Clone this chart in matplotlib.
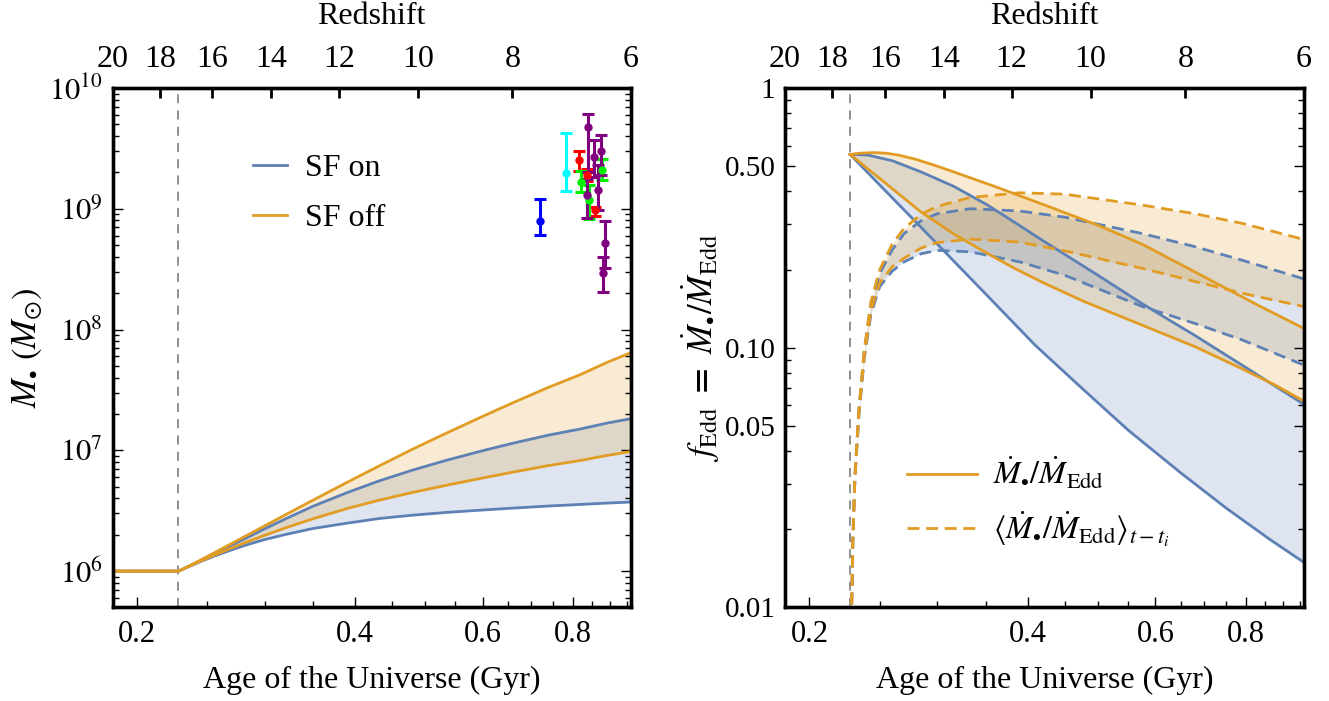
import numpy as np
import matplotlib
matplotlib.use("Agg")
import matplotlib.pyplot as plt
from matplotlib.ticker import FixedLocator, NullFormatter, FixedFormatter

plt.rcParams['font.family'] = ['Liberation Serif', 'DejaVu Serif']
plt.rcParams['mathtext.fontset'] = 'stix'

# ---------------- data ----------------
z_ticks = [20, 18, 16, 14, 12, 10, 8, 6]
age_z6 = 0.9616          # Gyr at z = 6 (right edge)
t_seed = 0.2275          # seeding time (vertical dashed line)

# Left panel: black-hole mass (log10 M) vs age
t_mass = [0.18, 0.2282, 0.235, 0.245, 0.255, 0.268, 0.2824, 0.30, 0.32, 0.3493, 0.39,
          0.4323, 0.48, 0.5349, 0.60, 0.6618, 0.74, 0.8188, 0.89, 0.9606]
logM_off_hi = [6.0, 6.0, 6.037, 6.093, 6.148, 6.217, 6.290, 6.374, 6.464, 6.585, 6.735,
               6.872, 7.009, 7.143, 7.281, 7.396, 7.522, 7.627, 7.727, 7.808]
logM_on_hi = [6.0, 6.0, 6.036, 6.088, 6.140, 6.204, 6.272, 6.350, 6.430, 6.535, 6.650,
              6.748, 6.836, 6.918, 6.997, 7.060, 7.126, 7.177, 7.225, 7.262]
logM_off_lo = [6.0, 6.0, 6.035, 6.084, 6.129, 6.183, 6.237, 6.296, 6.356, 6.432, 6.518,
               6.588, 6.651, 6.711, 6.771, 6.820, 6.874, 6.916, 6.957, 6.990]
logM_on_lo = [6.0, 6.0, 6.034, 6.080, 6.122, 6.169, 6.215, 6.261, 6.302, 6.352, 6.397,
              6.436, 6.463, 6.486, 6.506, 6.522, 6.539, 6.552, 6.563, 6.572]

# observed quasars: age (Gyr), log10 M, upper / lower error ends, colour
qso_t = [0.720, 0.781, 0.815, 0.837, 0.858, 0.820, 0.842, 0.876,
         0.840, 0.854, 0.873, 0.835, 0.865, 0.885, 0.880]
qso_logM = [8.90, 9.30, 9.40, 9.28, 8.99, 9.225, 9.074, 9.32,
            9.68, 9.432, 9.481, 9.115, 9.156, 8.72, 8.472]
qso_logM_top = [9.082, 9.625, 9.481, 9.33, 9.016, 9.31, 9.198, 9.41,
                9.782, 9.57, 9.61, 9.245, 9.363, 8.902, 8.60]
qso_logM_bot = [8.785, 9.151, 9.313, 9.23, 8.944, 9.14, 8.914, 9.239,
                9.308, 9.266, 9.283, 8.922, 8.99, 8.509, 8.307]
qso_color = ['blue', 'cyan', 'red', 'red', 'red', '#00ee00', '#00ee00', '#00ee00',
             'purple', 'purple', 'purple', 'purple', 'purple', 'purple', 'purple']

# Right panel: Eddington ratio (solid) vs age
t_off_hi = [0.2275, 0.235, 0.2455, 0.255, 0.265, 0.28, 0.30, 0.3163, 0.36, 0.42,
            0.5, 0.5758, 0.712, 0.83, 0.9616]
f_off_hi = [0.555, 0.561, 0.564, 0.561, 0.552, 0.532, 0.500, 0.475, 0.418, 0.356,
            0.296, 0.250, 0.183, 0.146, 0.1186]
t_off_lo = [0.2275, 0.25, 0.2846, 0.3163, 0.3515, 0.385, 0.42, 0.48, 0.5758, 0.68,
            0.791, 0.88, 0.9616]
f_off_lo = [0.555, 0.448, 0.334, 0.274, 0.231, 0.201, 0.178, 0.150, 0.122, 0.101,
            0.0828, 0.0715, 0.0622]
t_on_hi = [0.2275, 0.2405, 0.26, 0.2846, 0.3163, 0.3515, 0.385, 0.42, 0.5, 0.5758,
           0.68, 0.791, 0.9616]
f_on_hi = [0.555, 0.552, 0.525, 0.476, 0.418, 0.355, 0.302, 0.258, 0.190, 0.1475,
           0.1115, 0.0855, 0.0605]
t_on_lo = [0.2275, 0.25, 0.2846, 0.3515, 0.4096, 0.48, 0.551, 0.65, 0.75, 0.86, 0.9616]
f_on_lo = [0.555, 0.423, 0.292, 0.159, 0.1022, 0.068, 0.048, 0.033, 0.0242, 0.0184, 0.0149]

# Right panel: time-averaged Eddington ratio (dashed)
t_avg = [0.2280, 0.2285, 0.2295, 0.231, 0.234, 0.238, 0.243, 0.25, 0.26, 0.27,
         0.285, 0.30, 0.3334, 0.39, 0.45, 0.5758, 0.68, 0.791, 0.9616]
favg_off_hi = [0.0045, 0.009, 0.018, 0.032, 0.058, 0.098, 0.150, 0.200, 0.250, 0.288,
               0.326, 0.350, 0.379, 0.395, 0.390, 0.354, 0.328, 0.301, 0.261]
favg_on_hi = [0.0045, 0.009, 0.018, 0.032, 0.058, 0.097, 0.146, 0.193, 0.238, 0.275,
              0.308, 0.328, 0.343, 0.336, 0.318, 0.275, 0.245, 0.217, 0.184]
favg_off_lo = [0.0045, 0.009, 0.018, 0.031, 0.056, 0.093, 0.138, 0.178, 0.205, 0.221,
               0.242, 0.254, 0.262, 0.255, 0.236, 0.202, 0.180, 0.162, 0.144]
favg_on_lo = [0.0045, 0.009, 0.018, 0.031, 0.055, 0.091, 0.134, 0.172, 0.197, 0.214,
              0.230, 0.237, 0.234, 0.214, 0.190, 0.144, 0.124, 0.107, 0.0857]

# ---------------- style ----------------
BLUE = '#5E81B5'
ORANGE = '#E19C24'
FS = 23
TFS = 22
LW = 2.0


def age_of_z(z):
    return age_z6 * (7.0 / (1.0 + np.asarray(z, dtype=float))) ** 1.5


xlim = (float(age_of_z(20)), float(age_of_z(6)))

fig = plt.figure(figsize=(13.29, 7.01), dpi=100)
axL = fig.add_axes([0.0847, 0.1334, 0.3901, 0.7411])
axR = fig.add_axes([0.5907, 0.1334, 0.3905, 0.7411])


def style_axes(ax):
    ax.set_xscale('log')
    ax.set_yscale('log')
    ax.set_xlim(*xlim)
    ax.xaxis.set_major_locator(FixedLocator([0.2, 0.4, 0.6, 0.8]))
    ax.xaxis.set_major_formatter(FixedFormatter(['0.2', '0.4', '0.6', '0.8']))
    ax.xaxis.set_minor_locator(FixedLocator([0.25, 0.3, 0.35, 0.45, 0.5, 0.55, 0.65,
                                             0.7, 0.75, 0.85, 0.9, 0.95]))
    ax.xaxis.set_minor_formatter(NullFormatter())
    ax.tick_params(which='both', direction='in', top=False, right=True,
                   labelsize=TFS, width=1.0)
    ax.tick_params(axis='x', pad=9)
    ax.tick_params(axis='y', pad=7)
    ax.tick_params(which='major', length=7)
    ax.tick_params(which='minor', length=4)
    for s in ax.spines.values():
        s.set_linewidth(2.4)
    ax.set_xlabel('Age of the Universe (Gyr)', fontsize=FS, labelpad=12)
    ax.axvline(t_seed, color='#888888', lw=1.3, ls=(0, (5, 4)), zorder=1)
    top = ax.twiny()
    top.set_xscale('log')
    top.set_xlim(*xlim)
    top.xaxis.set_major_locator(FixedLocator(list(age_of_z(z_ticks))))
    top.xaxis.set_major_formatter(FixedFormatter([str(z) for z in z_ticks]))
    top.xaxis.set_minor_locator(FixedLocator([]))
    top.tick_params(which='both', direction='in', labelsize=FS, length=7, width=2.0, pad=10)
    top.set_xlabel('Redshift', fontsize=FS, labelpad=15)
    for s in top.spines.values():
        s.set_linewidth(2.4)
    return top


# ---------- left panel ----------
style_axes(axL)
axL.set_ylim(5e5, 1e10)
axL.yaxis.set_major_locator(FixedLocator([1e6, 1e7, 1e8, 1e9, 1e10]))
axL.yaxis.set_major_formatter(FixedFormatter([r'$10^{6}$', r'$10^{7}$', r'$10^{8}$',
                                              r'$10^{9}$', r'$10^{10}$']))
minors = [m * 10.0 ** k for k in range(5, 10) for m in range(2, 10)]
axL.yaxis.set_minor_locator(FixedLocator(minors))
axL.yaxis.set_minor_formatter(NullFormatter())
axL.tick_params(axis='y', labelsize=TFS)
axL.set_ylabel(r'$M_{\bullet}\ (M_{\odot})$', fontsize=FS + 2, labelpad=3)

tm = np.array(t_mass)
on_hi = 10 ** np.array(logM_on_hi)
on_lo = 10 ** np.array(logM_on_lo)
off_hi = 10 ** np.array(logM_off_hi)
off_lo = 10 ** np.array(logM_off_lo)
axL.fill_between(tm, on_lo, on_hi, color=BLUE, alpha=0.2, lw=0)
axL.fill_between(tm, off_lo, off_hi, color=ORANGE, alpha=0.2, lw=0)
lb, = axL.plot(tm, on_hi, color=BLUE, lw=LW)
axL.plot(tm, on_lo, color=BLUE, lw=LW)
lo, = axL.plot(tm, off_hi, color=ORANGE, lw=LW)
axL.plot(tm, off_lo, color=ORANGE, lw=LW)

for t, m, mt, mb, c in zip(qso_t, qso_logM, qso_logM_top, qso_logM_bot, qso_color):
    M = 10 ** m
    axL.errorbar([t], [M], yerr=[[M - 10 ** mb], [10 ** mt - M]], fmt='o', color=c,
                 ms=5, elinewidth=2.2, capsize=4, capthick=2.2, zorder=5)

axL.legend([lb, lo], ['SF on', 'SF off'], loc='upper left', bbox_to_anchor=(0.271, 0.873),
           frameon=False, fontsize=FS, handlelength=1.06, handletextpad=0.56,
           labelspacing=0.63, borderpad=0, borderaxespad=0)

# ---------- right panel ----------
style_axes(axR)
axR.set_ylim(0.01, 1.0)
axR.yaxis.set_major_locator(FixedLocator([0.01, 0.05, 0.1, 0.5, 1.0]))
axR.yaxis.set_major_formatter(FixedFormatter(['0.01', '0.05', '0.10', '0.50', '1']))
rminors = [m * 10.0 ** k for k in (-2, -1) for m in range(2, 10) if m != 5]
axR.yaxis.set_minor_locator(FixedLocator(rminors))
axR.yaxis.set_minor_formatter(NullFormatter())
axR.tick_params(axis='y', labelsize=TFS - 1)
axR.set_ylabel(r'$f_{\rm Edd}\ \mathbf{=}\ \dot{M}_{\bullet}/\dot{M}_{\rm Edd}$',
               fontsize=FS + 2, labelpad=2)


def band(ax, t1, f1, t2, f2, color):
    xs = list(t1) + list(t2)[::-1]
    ys = list(f1) + list(f2)[::-1]
    ax.fill(xs, ys, color=color, alpha=0.2, lw=0)


band(axR, t_on_hi, f_on_hi, t_on_lo, f_on_lo, BLUE)
band(axR, t_off_hi, f_off_hi, t_off_lo, f_off_lo, ORANGE)
ta = np.array(t_avg)
axR.fill_between(ta, favg_on_lo, favg_on_hi, color=BLUE, alpha=0.2, lw=0)
axR.fill_between(ta, favg_off_lo, favg_off_hi, color=ORANGE, alpha=0.2, lw=0)

DASH = (0, (4.3, 2.4))
axR.plot(t_on_hi, f_on_hi, color=BLUE, lw=LW)
axR.plot(t_on_lo, f_on_lo, color=BLUE, lw=LW)
axR.plot(ta, favg_on_hi, color=BLUE, lw=LW, ls=DASH)
axR.plot(ta, favg_on_lo, color=BLUE, lw=LW, ls=DASH)
ls_, = axR.plot(t_off_hi, f_off_hi, color=ORANGE, lw=LW)
axR.plot(t_off_lo, f_off_lo, color=ORANGE, lw=LW)
ld_, = axR.plot(ta, favg_off_hi, color=ORANGE, lw=LW, ls=DASH)
axR.plot(ta, favg_off_lo, color=ORANGE, lw=LW, ls=DASH)

axR.legend([ls_, ld_], [r'$\dot{M}_{\bullet}/\dot{M}_{\rm Edd}$',
                        r'$\langle\dot{M}_{\bullet}/\dot{M}_{\rm Edd}\rangle_{t-t_i}$'],
           loc='upper left', bbox_to_anchor=(0.235, 0.292), frameon=False, fontsize=FS,
           handlelength=2.2, handletextpad=0.5, labelspacing=0.55, borderpad=0,
           borderaxespad=0)

fig.savefig('out.png', dpi=100)
